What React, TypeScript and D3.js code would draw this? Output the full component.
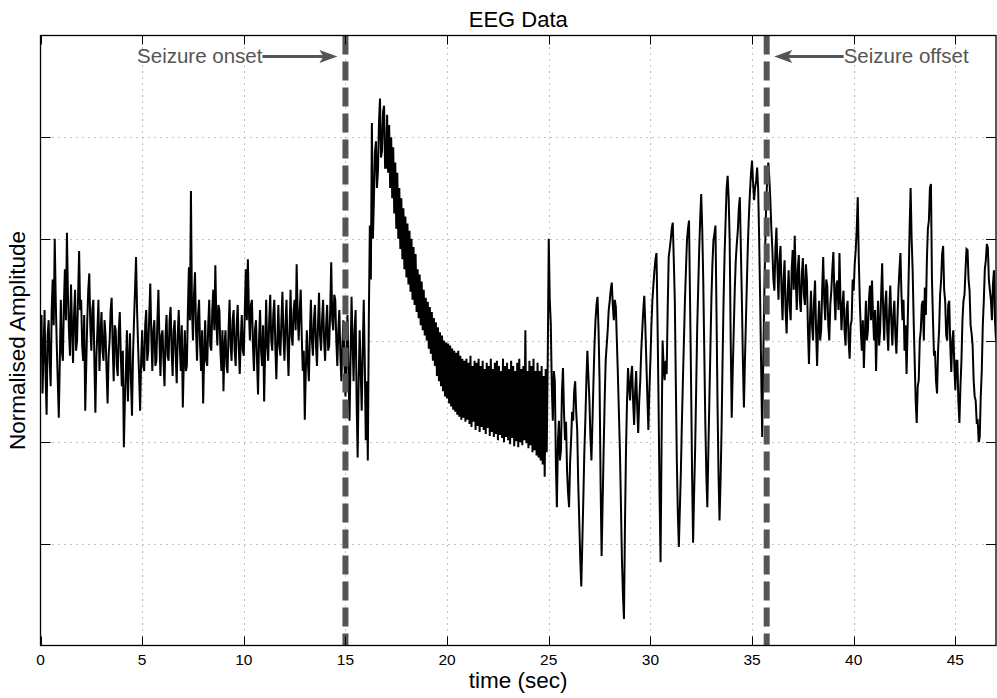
import React from "react";
import * as d3 from "d3";

// ---- data ----
const SAMPLE_DT = 0.05; // seconds between samples
// Normalised amplitude, one row per second (20 samples/row)
const amplitude: number[] = [
  -5, 25, -52, -10, 30, -35, -73, 5, 20, -20, -45, 30, 60, 15, 100, 40, -5, -40, -76, -20,
  40, -10, -20, 35, 70, 20, 106, 45, 10, -15, 55, 15, -22, 25, 50, -10, 0, 45, 88, 30,
  40, -5, -20, 25, -69, -25, 20, 50, 66, 15, -10, 30, 40, -20, -71, -15, 10, 40, -30, 5,
  28, -10, -20, 20, 5, -30, -62, -15, 0, 30, 42, -5, -40, 15, 10, -25, -35, 10, 28, -15,
  -45, -10, -105, -60, -30, 10, -60, -20, 7, -40, -74, -15, 20, 50, 82, 30, -5, -35, -69, -20,
  10, -25, -30, 15, 30, -20, -10, 25, 56, 5, -30, 10, 20, -25, -20, 20, 50, 0, -35, 5,
  10, -20, -45, 5, 25, -15, -20, 20, 33, -10, -35, 10, 20, -15, -42, 5, 30, -5, -30, 15,
  -66, -20, 10, -30, -25, 30, 72, 20, 147, 30, 0, 45, 67, 10, -20, 25, 40, -5, -30, 10,
  -62, -15, 20, -20, -25, 15, 40, -5, -10, 30, 50, 10, 74, 20, -5, 35, 30, -10, -30, 10,
  -50, -5, 10, -25, -32, 10, 40, -5, -20, 20, 30, -10, -25, 15, 35, -5, -33, 0, 25, -10,
  -15, 30, 70, 20, 80, 30, 0, 35, 40, -5, -30, 10, 20, -20, -53, 0, 30, -10, -25, 15,
  -60, -10, 40, -5, -20, 20, 45, 0, -10, 25, 40, -5, -38, 0, 35, -5, -15, 20, 48, 5,
  -20, 15, 40, -5, -35, 10, 50, 5, -5, 30, 40, 10, 75, 25, 0, 30, 50, 5, -30, -10,
  -78, -30, 10, -20, -40, 5, 40, 0, -15, 20, 35, -5, -25, 15, 47, 5, -10, 20, 40, 0,
  -20, 15, 35, -10, -5, 30, 77, 20, 10, 45, 40, 0, -25, 10, 30, -15, -40, -5, 20, -20,
  -55, -10, 25, -30, -79, -20, 43, 0, -40, 10, 30, -60, -115, -40, 10, -30, -69, -10, 40, -20,
  -98, -40, -118, 20, 113, 60, 214, 100, 139, 185, 196, 150, 167, 215, 238, 180, 187, 225, 231, 170,
  170, 222, 165, 212, 150, 200, 140, 190, 125, 175, 110, 165, 100, 150, 90, 140, 80, 130, 70, 122,
  62, 115, 55, 108, 48, 100, 40, 92, 35, 85, 28, 70, 22, 65, 15, 58, 10, 50, 5, 42,
  0, 38, -8, 33, -13, 28, -20, 22, -25, 18, -35, 13, -40, 8, -45, 5, -50, 0, -55, -2,
  -57, -3, -62, -5, -65, -8, -68, -10, -70, -12, -73, -10, -75, -15, -78, -18, -76, -20, -80, -18,
  -78, -22, -82, -15, -85, -25, -80, -20, -88, -22, -84, -18, -90, -25, -85, -20, -88, -28, -92, -22,
  -86, -25, -94, -18, -90, -28, -95, -22, -92, -20, -98, -25, -93, -30, -96, -18, -100, -25, -95, -22,
  -98, -28, -102, -20, -96, -25, -104, -30, -99, -22, -105, -18, -100, -28, -103, -25, -98, 10, -101, -30,
  -106, -20, -103, -25, -110, -18, -108, -30, -113, -22, -115, -30, -118, -25, -122, -35, -134, -28, -110, -20,
  100, 40, 17, -45, -79, -30, -40, -120, -164, -100, -79, -118, -108, -50, -27, -70, -98, -80, -128, -150,
  -164, -120, -98, -70, -79, -50, -40, -70, -88, -140, -177, -215, -242, -200, -157, -110, -79, -40, -10, -35,
  -59, -95, -118, -80, -40, -5, 20, 35, 43, 10, -40, -140, -212, -160, -108, -60, -20, -5, 10, 30,
  39, 50, 57, 35, 20, 40, 33, 0, -33, -70, -108, -160, -216, -250, -274, -180, -108, -60, -27, -45,
  -59, -35, -25, -60, -83, -50, -30, -65, -91, -60, -40, -10, 10, 30, 44, 15, -20, -55, -88, -50,
  -20, 15, 40, 55, 69, 80, 86, 20, -59, -150, -218, -100, 0, -25, -39, -20, -33, 30, 82, 90,
  99, 110, 116, 80, 40, -40, -118, -170, -203, -165, -128, -80, -39, 0, 40, 70, 99, 110, 118, 40,
  -39, -130, -199, -150, -108, -50, 10, 50, 89, 120, 144, 110, 59, -10, -79, -130, -164, -110, -59, -10,
  40, 75, 98, 105, 113, 30, -59, -130, -177, -140, -88, -20, 40, 85, 118, 150, 162, 140, 98, 0,
  -76, -30, 10, 50, 79, 95, 108, 130, 141, 90, 40, -20, -66, -20, 20, 60, 98, 125, 147, 165,
  177, 155, 138, 150, 157, 170, 150, 100, 40, -30, -95, -20, 40, 95, 138, 160, 175, 160, 138, 110,
  89, 60, 49, 90, 111, 70, 40, 80, 93, 50, 20, 60, 79, 30, 7, 45, 69, 35, 20, 70,
  89, 50, 103, 60, 30, 70, 84, 40, 28, 65, 81, 45, 35, 75, 59, 10, -23, 20, 49, 15,
  0, 40, 59, 10, -25, 15, 39, 0, 10, 50, 82, 40, 20, 60, 54, 15, 0, 35, 49, 70,
  87, 45, 20, 55, 59, 30, 86, 40, 10, 35, 49, 10, -5, 30, 39, 0, -18, 15, 20, 60,
  49, 75, 89, 110, 141, 80, 39, 10, -10, 20, -27, 5, 39, 0, 10, 40, 54, 20, 59, 25,
  0, 30, -30, 10, 39, -5, 10, 45, 76, 30, 0, 35, 49, 10, -10, 30, 54, 20, -5, 25,
  39, 5, -13, 20, 49, 70, 86, 45, 20, 40, -10, 15, -33, 10, 59, 110, 150, 100, 69, 20,
  -20, -60, -81, -45, -39, 0, 10, 35, 39, 0, 52, 25, 79, 110, 118, 150, 154, 60, 20, -15,
  -10, -40, -52, -10, 10, 45, 59, 85, 93, 50, 39, 5, 0, 35, 39, -5, -31, 0, 10, -25,
  -49, -20, -20, -60, -81, -45, -20, 20, 39, 45, 69, 90, 89, 60, 49, 15, 7, -5, -39, -55,
  -59, -80, -79, -100, -95, -55, -30, 15, 39, 70, 79, 95, 91, 60, 49, 40, 20, 55, 69, 20,
  0,
];
const xTicks = [0, 5, 10, 15, 20, 25, 30, 35, 40, 45];
const yTicks = [-200, -100, 0, 100, 200];
const eventTimes = [15, 35.72];
const eventLabels = ["Seizure onset", "Seizure offset"];

const W = 997;
const H = 698;
const FONT = "'Liberation Sans', Arial, Helvetica, sans-serif";

export default function App() {
  const x = d3.scaleLinear().domain([0, 47]).range([40.5, 996]);
  const y = d3.scaleLinear().domain([-300, 300]).range([645.5, 35.5]);
  const data = amplitude.map((v, i) => ({ t: i * SAMPLE_DT, v }));
  const line = d3
    .line<{ t: number; v: number }>()
    .x((d) => x(d.t))
    .y((d) => y(d.v));
  const [x0, x1] = x.range();
  const [yb, yt] = y.range();
  const grey = "#555555";

  return (
    <svg
      width={W}
      height={H}
      style={{ position: "absolute", left: 0, top: 0, background: "#fff" }}
      fontFamily={FONT}
    >
      <defs>
        <clipPath id="plot">
          <rect x={x0} y={yt} width={x1 - x0} height={yb - yt} />
        </clipPath>
      </defs>
      <rect x={0} y={0} width={W} height={H} fill="#fff" />
      {/* grid */}
      {xTicks.filter((t) => t !== 0).map((t) => (
        <line key={"gx" + t} x1={Math.round(x(t)) + 0.5} x2={Math.round(x(t)) + 0.5} y1={yt} y2={yb}
          stroke="#888" strokeWidth={1} strokeDasharray="1,5" />
      ))}
      {yTicks.map((t) => (
        <line key={"gy" + t} x1={x0} x2={x1} y1={Math.round(y(t)) + 0.5} y2={Math.round(y(t)) + 0.5}
          stroke="#888" strokeWidth={1} strokeDasharray="1,5" />
      ))}
      {/* signal */}
      <path d={line(data) || ""} fill="none" stroke="#000" strokeWidth={2}
        strokeLinejoin="miter" strokeMiterlimit={3} clipPath="url(#plot)" />
      {/* event markers */}
      {eventTimes.map((t) => (
        <line key={"ev" + t} x1={x(t)} x2={x(t)} y1={yt} y2={yb} stroke={grey}
          strokeWidth={6} strokeDasharray="19,7" />
      ))}
      {/* ticks */}
      {xTicks.map((t) => (
        <g key={"tx" + t}>
          <line x1={Math.round(x(t)) + 0.5} x2={Math.round(x(t)) + 0.5} y1={yb} y2={yb - 9} stroke="#000" />
          <line x1={Math.round(x(t)) + 0.5} x2={Math.round(x(t)) + 0.5} y1={yt} y2={yt + 9} stroke="#000" />
          <text x={x(t)} y={665} textAnchor="middle" fontSize={15.5} fill="#000">{t}</text>
        </g>
      ))}
      {yTicks.map((t) => (
        <g key={"ty" + t}>
          <line x1={x0} x2={x0 + 10} y1={Math.round(y(t)) + 0.5} y2={Math.round(y(t)) + 0.5} stroke="#000" />
          <line x1={x1} x2={x1 - 10} y1={Math.round(y(t)) + 0.5} y2={Math.round(y(t)) + 0.5} stroke="#000" />
        </g>
      ))}
      {/* frame */}
      <rect x={x0} y={yt} width={x1 - x0} height={yb - yt} fill="none" stroke="#000" strokeWidth={1.3} />
      {/* annotations */}
      <g fill={grey} stroke="none">
        <text x={x(eventTimes[0]) - 83} y={63} textAnchor="end" fontSize={20.5}>{eventLabels[0]}</text>
        <line x1={x(eventTimes[0]) - 83} x2={x(eventTimes[0]) - 20} y1={56.5} y2={56.5} stroke={grey} strokeWidth={3} />
        <path d={`M${x(eventTimes[0]) - 8},56.5 L${x(eventTimes[0]) - 26},50 L${x(eventTimes[0]) - 22},56.5 L${x(eventTimes[0]) - 26},63 Z`} />
        <text x={x(eventTimes[1]) + 77} y={63} textAnchor="start" fontSize={20.5}>{eventLabels[1]}</text>
        <line x1={x(eventTimes[1]) + 77} x2={x(eventTimes[1]) + 20} y1={56.5} y2={56.5} stroke={grey} strokeWidth={3} />
        <path d={`M${x(eventTimes[1]) + 7.5},56.5 L${x(eventTimes[1]) + 25.5},50 L${x(eventTimes[1]) + 21.5},56.5 L${x(eventTimes[1]) + 25.5},63 Z`} />
      </g>
      {/* titles */}
      <text x={(x0 + x1) / 2} y={27} textAnchor="middle" fontSize={22} fill="#000">EEG Data</text>
      <text x={(x0 + x1) / 2} y={688} textAnchor="middle" fontSize={22.5} fill="#000">time (sec)</text>
      <text transform={`translate(25,${(yt + yb) / 2}) rotate(-90)`} textAnchor="middle" fontSize={22.5} fill="#000">
        Normalised Amplitude
      </text>
    </svg>
  );
}
